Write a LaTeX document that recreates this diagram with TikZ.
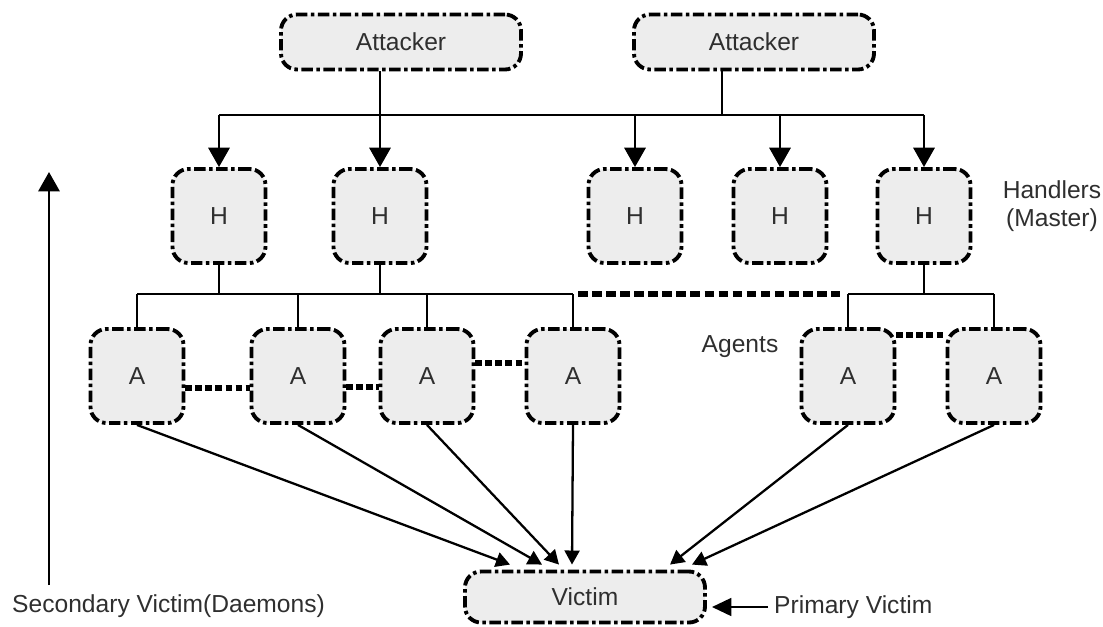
\documentclass[tikz,border=0pt]{standalone}
\usepackage{fontspec}
\setsansfont{Liberation Sans}
\usetikzlibrary{arrows.meta,positioning}
\definecolor{ink}{HTML}{2F2F2F}
\definecolor{boxfill}{HTML}{EDEDED}

\begin{document}
\begin{tikzpicture}[
  font=\sffamily\fontsize{14}{16}\selectfont,
  >={Triangle[length=11pt,width=12pt]},
  dashbox/.style={draw=black,fill=boxfill,line width=2.2pt,rounded corners=0.32cm,
    dash pattern=on 6.5pt off 2pt on 2pt off 2pt,text=ink,inner sep=0pt},
  wide/.style={dashbox,minimum width=4.8cm,minimum height=1.1cm},
  square/.style={dashbox,minimum width=1.86cm,minimum height=1.88cm},
  wire/.style={line width=1.6pt},
  feed/.style={->,line width=1.3pt,>={Triangle[length=8pt,width=8.5pt]}},
  dotgap/.style={line width=3pt,dash pattern=on 3.8pt off 1.9pt},
  note/.style={text=ink}
]
  \useasboundingbox (0,0) rectangle (22.06,-12.52);

  \node[wide] (att1) at (8.02,-0.84) {Attacker};
  \node[wide] (att2) at (15.08,-0.84) {Attacker};
  \foreach \n/\x in {1/4.38,2/7.6,3/12.7,4/15.6,5/18.48}
    \node[square] (h\n) at (\x,-4.32) {H};
  \foreach \n/\x in {1/2.74,2/5.96,3/8.54,4/11.46,5/16.96,6/19.88}
    \node[square] (a\n) at (\x,-7.52) {A};
  \node[wide,minimum height=1.02cm] (victim) at (11.7,-11.94) {Victim};

  \node[note,align=center] (handlers) at (21.04,-4.12) {Handlers\\(Master)};
  \node[note] (agents) at (14.8,-6.94) {Agents};
  \node[note,anchor=west] (primary) at (15.36,-12.14) {Primary Victim};
  \node[note,anchor=west] (secondary) at (0.12,-12.12) {Secondary Victim(Daemons)};

  \coordinate (topbus) at (0,-2.3);
  \coordinate (lowbus) at (0,-5.88);
  \coordinate (drop2) at ([xshift=-0.64cm]att2.south);
  \coordinate (busend) at ([xshift=-0.16cm]a5.north |- lowbus);
  \coordinate (base) at (0.98,-11.7);
  \coordinate (rise) at (0.98,-3.44);

  \draw[wire] (h1.north |- topbus) -- (h5.north |- topbus);
  \draw[wire] (att1.south -| h2.north) -- (h2.north |- topbus);
  \draw[wire] (drop2) -- (drop2 |- topbus);
  \foreach \n in {1,...,5}
    \draw[wire,->] (h\n.north |- topbus) -- (h\n.north);

  \draw[wire] (a1.north |- lowbus) -- (a4.north |- lowbus);
  \draw[wire] (a5.north |- lowbus) -- (a6.north |- lowbus);
  \foreach \n in {1,2,5}
    \draw[wire] (h\n.south) -- (h\n.south |- lowbus);
  \foreach \n in {1,...,6}
    \draw[wire] (a\n.north |- lowbus) -- (a\n.north);
  \draw[dotgap,dash pattern=on 5.5pt off 2.5pt] ([xshift=0.1cm]a4.north |- lowbus) -- (busend);

  \draw[dotgap] ([yshift=-0.24cm]a1.east) -- ([yshift=-0.24cm]a2.west);
  \draw[dotgap] ([yshift=-0.22cm]a2.east) -- ([yshift=-0.22cm]a3.west);
  \draw[dotgap] ([yshift=0.26cm]a3.east) -- ([yshift=0.26cm]a4.west);
  \draw[dotgap] ([yshift=0.82cm]a5.east) -- ([yshift=0.82cm]a6.west);

  \foreach \n/\dx in {1/-1.5,2/-0.86,3/-0.52,4/-0.26,5/1.7,6/2.14}
    \draw[feed] (a\n.south) -- ([xshift=\dx cm,yshift=0.1cm]victim.north);

  \draw[wire,->,>={Triangle[length=11pt,width=10pt]}] (primary.west) -- ([xshift=0.1cm]victim.east |- primary.west);
  \draw[wire,->] (base) -- (rise);
\end{tikzpicture}
\end{document}
